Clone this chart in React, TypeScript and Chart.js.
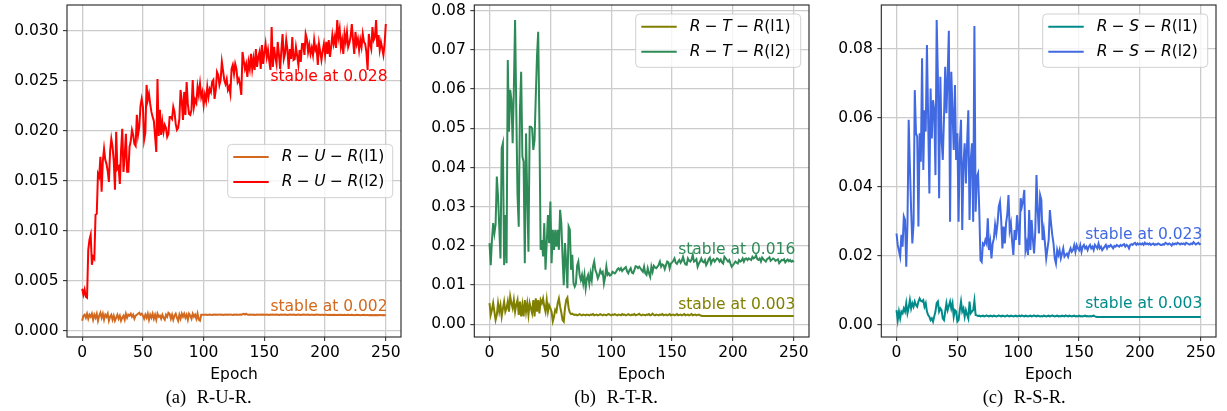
import React, { useEffect, useRef } from "react";
import { Chart, registerables } from "chart.js";

Chart.register(...registerables);

// ---------------- data ----------------
const epochs: number[] = Array.from({ length: 251 }, (_, i) => i);

const xTickValues = [0, 50, 100, 150, 200, 250];
const yTicksRUR = [0, 0.005, 0.01, 0.015, 0.02, 0.025, 0.03];
const yTicksRTR = [0, 0.01, 0.02, 0.03, 0.04, 0.05, 0.06, 0.07, 0.08];
const yTicksRSR = [0, 0.02, 0.04, 0.06, 0.08];

const xAxisTitle = "Epoch";
const captionTags = ["(a)", "(b)", "(c)"];
const captionTexts = ["R-U-R.", "R-T-R.", "R-S-R."];

const labelsRUR = ["R − U − R(l1)", "R − U − R(l2)"];
const labelsRTR = ["R − T − R(l1)", "R − T − R(l2)"];
const labelsRSR = ["R − S − R(l1)", "R − S − R(l2)"];

const stableTextsRUR = ["stable at 0.028", "stable at 0.002"];
const stableTextsRTR = ["stable at 0.016", "stable at 0.003"];
const stableTextsRSR = ["stable at 0.023", "stable at 0.003"];
const stableX = 155;
const stableYRUR = [0.025, 0.002];
const stableYRTR = [0.018, 0.004];
const stableYRSR = [0.025, 0.005];

const rurL1 = [
  0.0010, 0.0015, 0.0016, 0.0013, 0.0017, 0.0012, 0.0016, 0.0014, 0.0017, 0.0011,
  0.0016, 0.0013, 0.0017, 0.0010, 0.0015, 0.0018, 0.0013, 0.0017, 0.0011, 0.0016,
  0.0014, 0.0017, 0.0010, 0.0014, 0.0016, 0.0011, 0.0015, 0.0010, 0.0013, 0.0016,
  0.0012, 0.0015, 0.0010, 0.0013, 0.0015, 0.0011, 0.0017, 0.0013, 0.0016, 0.0015,
  0.0017, 0.0014, 0.0016, 0.0012, 0.0015, 0.0016, 0.0017, 0.0018, 0.0016, 0.0017,
  0.0015, 0.0012, 0.0016, 0.0013, 0.0017, 0.0011, 0.0016, 0.0013, 0.0017, 0.0012,
  0.0016, 0.0011, 0.0017, 0.0014, 0.0015, 0.0012, 0.0016, 0.0013, 0.0011, 0.0016,
  0.0014, 0.0018, 0.0017, 0.0012, 0.0016, 0.0011, 0.0015, 0.0017, 0.0013, 0.0010,
  0.0016, 0.0012, 0.0017, 0.0014, 0.0017, 0.0013, 0.0016, 0.0011, 0.0017, 0.0015,
  0.0012, 0.0017, 0.0014, 0.0016, 0.0012, 0.0017, 0.0011, 0.0010, 0.0016, 0.0016,
  0.0016, 0.0016, 0.00162, 0.00158, 0.0016, 0.00163, 0.0016, 0.00158, 0.00161, 0.0016,
  0.00162, 0.0016, 0.00159, 0.00163, 0.0016, 0.00161, 0.00158, 0.0016, 0.00162, 0.0016,
  0.00161, 0.00159, 0.00163, 0.0016, 0.00158, 0.00162, 0.0016, 0.00161, 0.00159, 0.0016,
  0.00162, 0.0016, 0.00164, 0.00168, 0.00162, 0.0017, 0.00162, 0.0016, 0.00161, 0.00159,
  0.0016, 0.00162, 0.00158, 0.0016, 0.00161, 0.0016, 0.00159, 0.00162, 0.0016, 0.00161,
  0.00159, 0.0016, 0.00162, 0.0016, 0.00158, 0.00161, 0.0016, 0.00162, 0.00159, 0.0016,
  0.00161, 0.0016, 0.00158, 0.0016, 0.00162, 0.0016, 0.00159, 0.00161, 0.0016, 0.00158,
  0.0016, 0.00162, 0.0016, 0.00159, 0.00161, 0.0016, 0.00158, 0.0016, 0.00161, 0.0016,
  0.00158, 0.0016, 0.00162, 0.0016, 0.00159, 0.0016, 0.00161, 0.00158, 0.0016, 0.00159,
  0.0016, 0.00158, 0.0016, 0.00161, 0.00159, 0.0016, 0.00158, 0.0016, 0.00159, 0.00157,
  0.00159, 0.0016, 0.00158, 0.00157, 0.0016, 0.00158, 0.00159, 0.00157, 0.0016, 0.00158,
  0.00157, 0.00159, 0.00158, 0.0016, 0.00157, 0.00158, 0.00159, 0.00157, 0.00158, 0.0016,
  0.00158, 0.00157, 0.00159, 0.00158, 0.00156, 0.00158, 0.00159, 0.00157, 0.00158, 0.00156,
  0.00158, 0.00157, 0.00159, 0.00156, 0.00158, 0.00157, 0.00155, 0.00158, 0.00156, 0.00157,
  0.00155, 0.00157, 0.00156, 0.00158, 0.00155, 0.00157, 0.00156, 0.00155, 0.00157, 0.00155,
  0.00156,
];

const rurL2 = [
  0.0042, 0.0036, 0.0041, 0.0034, 0.0033, 0.0081, 0.0091, 0.0096, 0.0066, 0.0074,
  0.0072, 0.0116, 0.0117, 0.0157, 0.0154, 0.0174, 0.0139, 0.0170, 0.0182, 0.0171,
  0.0167, 0.0160, 0.0149, 0.0180, 0.0192, 0.0184, 0.0170, 0.0141, 0.0199, 0.0162,
  0.0164, 0.0147, 0.0180, 0.0202, 0.0159, 0.0175, 0.0197, 0.0159, 0.0159, 0.0184,
  0.0190, 0.0201, 0.0196, 0.0187, 0.0185, 0.0216, 0.0196, 0.0204, 0.0225, 0.0232,
  0.0224, 0.0191, 0.0198, 0.0246, 0.0231, 0.0237, 0.0227, 0.0219, 0.0214, 0.0210,
  0.0195, 0.0179, 0.0252, 0.0195, 0.0221, 0.0196, 0.0209, 0.0199, 0.0206, 0.0203,
  0.0194, 0.0197, 0.0214, 0.0214, 0.0212, 0.0224, 0.0219, 0.0207, 0.0201, 0.0203,
  0.0212, 0.0241, 0.0230, 0.0211, 0.0239, 0.0216, 0.0249, 0.0227, 0.0217, 0.0216,
  0.0221, 0.0251, 0.0224, 0.0231, 0.0228, 0.0244, 0.0236, 0.0247, 0.0234, 0.0239,
  0.0226, 0.0236, 0.0230, 0.0244, 0.0234, 0.0242, 0.0239, 0.0249, 0.0251, 0.0232,
  0.0241, 0.0259, 0.0256, 0.0246, 0.0251, 0.0269, 0.0260, 0.0251, 0.0247, 0.0252,
  0.0241, 0.0244, 0.0237, 0.0262, 0.0266, 0.0257, 0.0267, 0.0262,
  0.0249, 0.0252, 0.0246, 0.0236, 0.0279, 0.0270, 0.0262, 0.0267, 0.0254, 0.0269,
  0.0262, 0.0277, 0.0262, 0.0272, 0.0261, 0.0282, 0.0264, 0.0274, 0.0279, 0.0262,
  0.0286, 0.0267, 0.0278, 0.0287, 0.0274, 0.0281, 0.0270, 0.0261, 0.0304, 0.0264,
  0.0284, 0.0274, 0.0267, 0.0289, 0.0276, 0.0262, 0.0281, 0.0297, 0.0272, 0.0277,
  0.0291, 0.0281, 0.0262, 0.0282, 0.0272, 0.0294, 0.0271, 0.0272, 0.0284, 0.0275,
  0.0266, 0.0281, 0.0269, 0.0287, 0.0287, 0.0276, 0.0297, 0.0292, 0.0279, 0.0286,
  0.0277, 0.0283, 0.0276, 0.0291, 0.0281, 0.0284, 0.0266, 0.0287, 0.0279, 0.0271,
  0.0280, 0.0287, 0.0276, 0.0289, 0.0277, 0.0291, 0.0274, 0.0284, 0.0296, 0.0287,
  0.0294, 0.0283, 0.0311, 0.0294, 0.0302, 0.0284, 0.0291, 0.0277, 0.0297, 0.0289,
  0.0299, 0.0284, 0.0288, 0.0294, 0.0307, 0.0291, 0.0277, 0.0299, 0.0287, 0.0292,
  0.0281, 0.0291, 0.0284, 0.0297, 0.0289, 0.0287, 0.0279, 0.0261, 0.0297, 0.0287,
  0.0282, 0.0304, 0.0291, 0.0294, 0.0311, 0.0284, 0.0296, 0.0281, 0.0289, 0.0283,
  0.0276, 0.0287, 0.0307,
];

const rtrL1 = [
  0.0054, 0.0024, 0.0037, 0.0054, 0.0032, 0.0011, 0.0024, 0.0054, 0.0032, 0.0049,
  0.0020, 0.0040, 0.0058, 0.0032, 0.0041, 0.0058, 0.0032, 0.0071, 0.0054, 0.0041,
  0.0062, 0.0032, 0.0050, 0.0062, 0.0024, 0.0058, 0.0020, 0.0049, 0.0020, 0.0062,
  0.0032, 0.0054, 0.0024, 0.0054, 0.0040, 0.0028, 0.0062, 0.0020, 0.0066, 0.0032,
  0.0062, 0.0028, 0.0062, 0.0054, 0.0066, 0.0045, 0.0032, 0.0062, 0.0032, 0.0049,
  0.0041, 0.0032, 0.0008, 0.0020, 0.0037, 0.0032, 0.0054, 0.0066, 0.0045, 0.0030,
  0.0011, 0.0007, 0.0041, 0.0062, 0.0068, 0.0041, 0.0030, 0.0026, 0.0027, 0.0025,
  0.0024, 0.0025, 0.0023, 0.0024, 0.0026, 0.0024, 0.0023, 0.0025, 0.0024, 0.0023,
  0.0025, 0.0024, 0.0023, 0.0025, 0.0024, 0.0026, 0.0023, 0.0024, 0.0025, 0.0023,
  0.0024, 0.0026, 0.0024, 0.0023, 0.0025, 0.0024, 0.0023, 0.0025, 0.0026, 0.0024,
  0.0023, 0.0025, 0.0024, 0.0026, 0.0024, 0.0023, 0.0025, 0.0024, 0.0023, 0.0026,
  0.0024, 0.0025, 0.0023, 0.0024, 0.0026, 0.0024, 0.0023, 0.0025, 0.0024, 0.0026,
  0.0023, 0.0024, 0.0025, 0.0027, 0.0024, 0.0023, 0.0025, 0.0024, 0.0023, 0.0025,
  0.0024, 0.0026, 0.0023, 0.0024, 0.0027, 0.0024, 0.0023, 0.0025, 0.0024, 0.0023,
  0.0025, 0.0024, 0.0026, 0.0023, 0.0024, 0.0025, 0.0023, 0.0024, 0.0026, 0.0023,
  0.0024, 0.0025, 0.0023, 0.0024, 0.0026, 0.0023, 0.0024, 0.0025, 0.0023, 0.0024,
  0.0026, 0.0023, 0.0024, 0.0025, 0.0023, 0.0024, 0.0026, 0.0023, 0.0024, 0.0025,
  0.0023, 0.0024, 0.0025, 0.0023, 0.0022, 0.0021, 0.0021, 0.0021, 0.0021, 0.0021,
  0.0021, 0.0021, 0.0021, 0.0021, 0.0021, 0.0021, 0.0021, 0.0021, 0.0021, 0.0021,
  0.0021, 0.0021, 0.0021, 0.0021, 0.0021, 0.0021, 0.0021, 0.0021, 0.0021, 0.0021,
  0.0021, 0.0021, 0.0021, 0.0021, 0.0021, 0.0021, 0.0021, 0.0021, 0.0021, 0.0021,
  0.0021, 0.0021, 0.0021, 0.0021, 0.0021, 0.0021, 0.0021, 0.0021, 0.0021, 0.0021,
  0.0021, 0.0021, 0.0021, 0.0021, 0.0021, 0.0021, 0.0021, 0.0021, 0.0021, 0.0021,
  0.0021, 0.0021, 0.0021, 0.0021, 0.0021, 0.0021, 0.0021, 0.0021, 0.0021, 0.0021,
  0.0021, 0.0021, 0.0021, 0.0021, 0.0021, 0.0021, 0.0021, 0.0021, 0.0021, 0.0021,
  0.0021,
];

const rtrL2 = [
  0.0207, 0.0151, 0.0215, 0.0258, 0.0232, 0.0255, 0.0377, 0.0326, 0.0249, 0.0168,
  0.0449, 0.0462, 0.0151, 0.0279, 0.0156, 0.0674, 0.0491, 0.0598, 0.0572, 0.0462,
  0.0600, 0.0776, 0.0547, 0.0330, 0.0249, 0.0547, 0.0644, 0.0428, 0.0415, 0.0156,
  0.0487, 0.0326, 0.0185, 0.0504, 0.0504, 0.0500, 0.0445, 0.0470, 0.0580, 0.0683,
  0.0746, 0.0508, 0.0190, 0.0215, 0.0173, 0.0258, 0.0139, 0.0207, 0.0279, 0.0207,
  0.0313, 0.0156, 0.0241, 0.0190, 0.0241, 0.0198, 0.0241, 0.0190, 0.0292, 0.0258,
  0.0173, 0.0100, 0.0207, 0.0156, 0.0092, 0.0249, 0.0241, 0.0139, 0.0177, 0.0105,
  0.0096, 0.0104, 0.0150, 0.0160, 0.0126, 0.0113, 0.0126, 0.0104, 0.0126, 0.0092,
  0.0117, 0.0126, 0.0104, 0.0130, 0.0113, 0.0147, 0.0160, 0.0138, 0.0130, 0.0117,
  0.0125, 0.0138, 0.0130, 0.0134, 0.0104, 0.0121, 0.0147, 0.0126, 0.0130, 0.0124,
  0.0126, 0.0134, 0.0132, 0.0130, 0.0134, 0.0140, 0.0143, 0.0138, 0.0143, 0.0136,
  0.0140, 0.0143, 0.0146, 0.0135, 0.0130, 0.0138, 0.0143, 0.0132, 0.0130, 0.0138,
  0.0148, 0.0147, 0.0143, 0.0147, 0.0143, 0.0138, 0.0134, 0.0147, 0.0130, 0.0126,
  0.0143, 0.0130, 0.0121, 0.0147, 0.0134, 0.0149, 0.0145, 0.0143, 0.0147, 0.0152,
  0.0160, 0.0147, 0.0153, 0.0151, 0.0141, 0.0151, 0.0160, 0.0158, 0.0143, 0.0155,
  0.0158, 0.0162, 0.0168, 0.0157, 0.0154, 0.0160, 0.0164, 0.0157, 0.0162, 0.0172,
  0.0160, 0.0153, 0.0152, 0.0168, 0.0162, 0.0160, 0.0165, 0.0177, 0.0160, 0.0162,
  0.0166, 0.0147, 0.0155, 0.0160, 0.0168, 0.0160, 0.0158, 0.0164, 0.0151, 0.0157,
  0.0166, 0.0170, 0.0155, 0.0163, 0.0166, 0.0160, 0.0164, 0.0168, 0.0166, 0.0160,
  0.0165, 0.0158, 0.0155, 0.0172, 0.0168, 0.0164, 0.0160, 0.0164, 0.0155, 0.0147,
  0.0151, 0.0155, 0.0160, 0.0157, 0.0155, 0.0164, 0.0160, 0.0162, 0.0168, 0.0160,
  0.0167, 0.0168, 0.0164, 0.0168, 0.0166, 0.0164, 0.0172, 0.0168, 0.0170, 0.0176,
  0.0166, 0.0164, 0.0168, 0.0160, 0.0170, 0.0166, 0.0163, 0.0160, 0.0166, 0.0168,
  0.0171, 0.0162, 0.0165, 0.0168, 0.0166, 0.0162, 0.0164, 0.0166, 0.0156, 0.0160,
  0.0164, 0.0163, 0.0166, 0.0158, 0.0162, 0.0165, 0.0161, 0.0164, 0.0160, 0.0162,
  0.0159,
];

const rsrL1 = [
  0.0043, 0.0014, 0.0039, 0.0019, 0.0039, 0.0034, 0.0048, 0.0039, 0.0063, 0.0034,
  0.0050, 0.0072, 0.0048, 0.0063, 0.0053, 0.0068, 0.0058, 0.0053, 0.0068, 0.0077,
  0.0070, 0.0068, 0.0072, 0.0053, 0.0063, 0.0039, 0.0029, 0.0024, 0.0014, 0.0019,
  0.0010, 0.0025, 0.0039, 0.0063, 0.0068, 0.0039, 0.0048, 0.0043, 0.0019, 0.0014,
  0.0039, 0.0063, 0.0043, 0.0055, 0.0068, 0.0048, 0.0063, 0.0024, 0.0043, 0.0039,
  0.0010, 0.0014, 0.0043, 0.0068, 0.0039, 0.0048, 0.0024, 0.0043, 0.0030, 0.0019,
  0.0068, 0.0034, 0.0039, 0.0043, 0.0070, 0.0029, 0.0028, 0.0026, 0.0027, 0.0025,
  0.0026, 0.0027, 0.0025, 0.0026, 0.0028, 0.0026, 0.0025, 0.0027, 0.0026, 0.0025,
  0.0027, 0.0026, 0.0025, 0.0026, 0.0028, 0.0026, 0.0025, 0.0027, 0.0026, 0.0025,
  0.0026, 0.0028, 0.0026, 0.0025, 0.0027, 0.0026, 0.0025, 0.0026, 0.0027, 0.0025,
  0.0026, 0.0027, 0.0025, 0.0028, 0.0026, 0.0025, 0.0027, 0.0026, 0.0025, 0.0026,
  0.0027, 0.0025, 0.0026, 0.0028, 0.0026, 0.0025, 0.0027, 0.0026, 0.0025, 0.0026,
  0.0025, 0.0027, 0.0026, 0.0025, 0.0026, 0.0027, 0.0025, 0.0026, 0.0028, 0.0026,
  0.0025, 0.0026, 0.0027, 0.0025, 0.0026, 0.0025, 0.0027, 0.0026, 0.0025, 0.0028,
  0.0026, 0.0025, 0.0027, 0.0026, 0.0025, 0.0026, 0.0027, 0.0025, 0.0026, 0.0025,
  0.0027, 0.0025, 0.0026, 0.0025, 0.0026, 0.0027, 0.0025, 0.0026, 0.0025, 0.0026,
  0.0025, 0.0026, 0.0027, 0.0025, 0.0024, 0.0023, 0.0023, 0.0023, 0.0023, 0.0023,
  0.0023, 0.0023, 0.0023, 0.0023, 0.0023, 0.0023, 0.0023, 0.0023, 0.0023, 0.0023,
  0.0023, 0.0023, 0.0023, 0.0023, 0.0023, 0.0023, 0.0023, 0.0023, 0.0023, 0.0023,
  0.0023, 0.0023, 0.0023, 0.0023, 0.0023, 0.0023, 0.0023, 0.0023, 0.0023, 0.0023,
  0.0023, 0.0023, 0.0023, 0.0023, 0.0023, 0.0023, 0.0023, 0.0023, 0.0023, 0.0023,
  0.0023, 0.0023, 0.0023, 0.0023, 0.0023, 0.0023, 0.0023, 0.0023, 0.0023, 0.0023,
  0.0023, 0.0023, 0.0023, 0.0023, 0.0023, 0.0023, 0.0023, 0.0023, 0.0023, 0.0023,
  0.0023, 0.0023, 0.0023, 0.0023, 0.0023, 0.0023, 0.0023, 0.0023, 0.0023, 0.0023,
  0.0023, 0.0023, 0.0023, 0.0023, 0.0023, 0.0023, 0.0023, 0.0023, 0.0023, 0.0023,
  0.0023,
];

const rsrL2 = [
  0.0265, 0.0232, 0.0215, 0.0198, 0.0261, 0.0227, 0.0314, 0.0304, 0.0169, 0.0294,
  0.0594, 0.0458, 0.0333, 0.0236, 0.0294, 0.0680, 0.0555, 0.0545, 0.0285, 0.0555,
  0.0473, 0.0772, 0.0449, 0.0622, 0.0560, 0.0811, 0.0594, 0.0381, 0.0685, 0.0540,
  0.0651, 0.0622, 0.0434, 0.0883, 0.0719, 0.0367, 0.0719, 0.0540, 0.0478, 0.0598,
  0.0748, 0.0613, 0.0720, 0.0852, 0.0299, 0.0733, 0.0622, 0.0507, 0.0695, 0.0478,
  0.0555, 0.0299, 0.0526, 0.0594, 0.0275, 0.0468, 0.0526, 0.0410, 0.0526, 0.0622,
  0.0304, 0.0478, 0.0526, 0.0299, 0.0866, 0.0328, 0.0429, 0.0439, 0.0333, 0.0188,
  0.0183, 0.0236, 0.0232, 0.0246, 0.0236, 0.0309, 0.0217, 0.0241, 0.0193, 0.0236,
  0.0250, 0.0290, 0.0265, 0.0294, 0.0343, 0.0357, 0.0304, 0.0222, 0.0285, 0.0236,
  0.0294, 0.0320, 0.0376, 0.0275, 0.0294, 0.0241, 0.0203, 0.0275, 0.0246, 0.0318,
  0.0280, 0.0232, 0.0367, 0.0343, 0.0360, 0.0391, 0.0217, 0.0236, 0.0203, 0.0333,
  0.0217, 0.0304, 0.0250, 0.0207, 0.0270, 0.0434, 0.0333, 0.0265, 0.0376, 0.0362,
  0.0246, 0.0275, 0.0236, 0.0193, 0.0220, 0.0246, 0.0333, 0.0294, 0.0260, 0.0236,
  0.0193, 0.0178, 0.0217, 0.0203, 0.0217, 0.0193, 0.0207, 0.0222, 0.0198, 0.0203,
  0.0207, 0.0198, 0.0212, 0.0222, 0.0212, 0.0217, 0.0231, 0.0212, 0.0231, 0.0222,
  0.0217, 0.0231, 0.0212, 0.0227, 0.0232, 0.0222, 0.0227, 0.0217, 0.0227, 0.0232,
  0.0222, 0.0227, 0.0217, 0.0232, 0.0227, 0.0222, 0.0236, 0.0222, 0.0227, 0.0217,
  0.0222, 0.0227, 0.0232, 0.0222, 0.0229, 0.0227, 0.0232, 0.0227, 0.0222, 0.0229,
  0.0227, 0.0232, 0.0229, 0.0227, 0.0232, 0.0229, 0.0232, 0.0234, 0.0227, 0.0232,
  0.0229, 0.0222, 0.0232, 0.0234, 0.0232, 0.0236, 0.0238, 0.0232, 0.0236, 0.0233,
  0.0236, 0.0233, 0.0236, 0.0232, 0.0238, 0.0234, 0.0236, 0.0233, 0.0236, 0.0232,
  0.0234, 0.0236, 0.0232, 0.0234, 0.0233, 0.0236, 0.0234, 0.0232, 0.0232, 0.0234,
  0.0233, 0.0238, 0.0236, 0.0233, 0.0236, 0.0234, 0.0230, 0.0236, 0.0233, 0.0236,
  0.0234, 0.0238, 0.0236, 0.0233, 0.0236, 0.0234, 0.0236, 0.0233, 0.0238, 0.0236,
  0.0234, 0.0233, 0.0236, 0.0234, 0.0240, 0.0236, 0.0233, 0.0236, 0.0238, 0.0234,
  0.0236,
];

// ---------------- styling ----------------
const FONT = '"DejaVu Sans", sans-serif';
const FS = 15.5;
const LINE_W = 2;

type PanelCfg = {
  left: number;
  width: number;
  height: number;
  yAxisWidth: number;
  padRight: number;
  yMin: number;
  yMax: number;
  yTicks: number[];
  decimals: number;
  series: number[][];
  labels: string[];
  colors: string[];
  legendLoc: "center right" | "upper right";
  notes: string[];
  noteY: number[];
  noteColors: string[];
};

function drawMathLabel(ctx: CanvasRenderingContext2D, label: string, x: number, y: number) {
  const gap = 4.4;
  const tokens = label.split(" ");
  let cx = x;
  ctx.textBaseline = "middle";
  ctx.textAlign = "left";
  ctx.fillStyle = "#000";
  tokens.forEach((tok, ti) => {
    if (ti > 0) cx += gap;
    let inParen = false;
    for (const ch of tok) {
      if (ch === "(") inParen = true;
      const italic = !inParen && /[A-Z]/.test(ch);
      ctx.font = `${italic ? "italic " : ""}${FS}px ${FONT}`;
      ctx.fillText(ch, cx, y);
      cx += ctx.measureText(ch).width;
    }
  });
}

function makeDecorPlugin(cfg: PanelCfg) {
  return {
    id: "panelDecor",
    afterDatasetsDraw(chart: any) {
      const { ctx, chartArea: a, scales } = chart;
      ctx.save();
      // frame (spines)
      ctx.strokeStyle = "#222";
      ctx.lineWidth = 1.1;
      ctx.strokeRect(a.left, a.top, a.right - a.left, a.bottom - a.top);

      // "stable at" notes
      ctx.font = `${FS}px ${FONT}`;
      ctx.textAlign = "left";
      ctx.textBaseline = "alphabetic";
      cfg.notes.forEach((t, i) => {
        ctx.fillStyle = cfg.noteColors[i];
        ctx.fillText(t, scales.x.getPixelForValue(stableX), scales.y.getPixelForValue(cfg.noteY[i]));
      });

      // legend
      const w = 165;
      const h = 53.3;
      const bx = a.right - 8.3 - w;
      const by = cfg.legendLoc === "center right" ? (a.top + a.bottom) / 2 - h / 2 : a.top + 9;
      ctx.beginPath();
      if ((ctx as any).roundRect) (ctx as any).roundRect(bx, by, w, h, 4);
      else ctx.rect(bx, by, w, h);
      ctx.fillStyle = "rgba(255,255,255,0.8)";
      ctx.fill();
      ctx.strokeStyle = "rgba(204,204,204,0.9)";
      ctx.lineWidth = 1;
      ctx.stroke();
      cfg.labels.forEach((lab, i) => {
        const cy = by + 12.7 + i * 25;
        ctx.strokeStyle = cfg.colors[i];
        ctx.lineWidth = LINE_W;
        ctx.beginPath();
        ctx.moveTo(bx + 5.6, cy);
        ctx.lineTo(bx + 41, cy);
        ctx.stroke();
        drawMathLabel(ctx, lab, bx + 54, cy);
      });
      ctx.restore();
    },
  };
}

function LinePanel({ cfg }: { cfg: PanelCfg }) {
  const ref = useRef<HTMLCanvasElement | null>(null);
  useEffect(() => {
    if (!ref.current) return;
    const chart = new Chart(ref.current, {
      type: "line",
      data: {
        datasets: cfg.series.map((s, i) => ({
          label: cfg.labels[i],
          data: s.map((v, j) => ({ x: epochs[j], y: v })),
          borderColor: cfg.colors[i],
          backgroundColor: cfg.colors[i],
          borderWidth: LINE_W,
          pointRadius: 0,
          tension: 0,
          fill: false,
        })),
      },
      options: {
        animation: false,
        responsive: false,
        events: [],
        layout: { padding: { top: 5, right: cfg.padRight, left: 0, bottom: 0 } },
        plugins: { legend: { display: false }, tooltip: { enabled: false } },
        scales: {
          x: {
            type: "linear",
            min: -12.5,
            max: 262.5,
            afterBuildTicks: (s: any) => {
              s.ticks = xTickValues.map((v) => ({ value: v }));
            },
            afterFit: (s: any) => {
              s.height = cfg.height - 337;
              s.paddingLeft = 0;
              s.paddingRight = 0;
            },
            ticks: {
              color: "#000",
              font: { family: FONT, size: FS },
              padding: 3,
              maxRotation: 0,
              autoSkip: false,
              callback: (v: any) => String(v),
            },
            grid: { color: "#cccccc", lineWidth: 1.3, tickColor: "#222", tickLength: 4, tickWidth: 1 },
            border: { display: false },
            title: {
              display: true,
              text: xAxisTitle,
              color: "#000",
              font: { family: FONT, size: FS },
              padding: { top: 0, bottom: 5.7 },
            },
          },
          y: {
            type: "linear",
            min: cfg.yMin,
            max: cfg.yMax,
            afterBuildTicks: (s: any) => {
              s.ticks = cfg.yTicks.map((v) => ({ value: v }));
            },
            afterFit: (s: any) => {
              s.width = cfg.yAxisWidth;
              s.paddingTop = 0;
              s.paddingBottom = 0;
            },
            ticks: {
              color: "#000",
              font: { family: FONT, size: FS },
              padding: 4.5,
              autoSkip: false,
              callback: (v: any) => Number(v).toFixed(cfg.decimals),
            },
            grid: { color: "#cccccc", lineWidth: 1.3, tickColor: "#222", tickLength: 4, tickWidth: 1 },
            border: { display: false },
          },
        },
      },
      plugins: [makeDecorPlugin(cfg)],
    } as any);
    return () => chart.destroy();
  }, [cfg]);
  return (
    <canvas
      ref={ref}
      width={cfg.width}
      height={cfg.height}
      style={{ position: "absolute", left: cfg.left, top: 0, width: cfg.width, height: cfg.height }}
    />
  );
}

const PANELS: PanelCfg[] = [
  {
    left: 0, width: 410, height: 390, yAxisWidth: 67, padRight: 9,
    yMin: -0.00063, yMax: 0.0326, yTicks: yTicksRUR, decimals: 3,
    series: [rurL1, rurL2], labels: labelsRUR, colors: ["#D2691E", "#FF0000"],
    legendLoc: "center right",
    notes: stableTextsRUR, noteY: stableYRUR, noteColors: ["#FF0000", "#D2691E"],
  },
  {
    left: 410, width: 410, height: 390, yAxisWidth: 64.3, padRight: 11,
    yMin: -0.00324, yMax: 0.08145, yTicks: yTicksRTR, decimals: 2,
    series: [rtrL1, rtrL2], labels: labelsRTR, colors: ["#808000", "#2E8B57"],
    legendLoc: "upper right",
    notes: stableTextsRTR, noteY: stableYRTR, noteColors: ["#2E8B57", "#808000"],
  },
  {
    left: 817, width: 410, height: 390, yAxisWidth: 64.3, padRight: 11,
    yMin: -0.00347, yMax: 0.09265, yTicks: yTicksRSR, decimals: 2,
    series: [rsrL1, rsrL2], labels: labelsRSR, colors: ["#008B8B", "#4169E1"],
    legendLoc: "upper right",
    notes: stableTextsRSR, noteY: stableYRSR, noteColors: ["#4169E1", "#008B8B"],
  },
];

const CAPTION_POS = [
  { tagLeft: 165.7, textLeft: 196.7 },
  { tagLeft: 574.3, textLeft: 606.7 },
  { tagLeft: 982.7, textLeft: 1013.7 },
];

const captionStyle: React.CSSProperties = {
  position: "absolute",
  top: 387,
  fontFamily: '"Liberation Serif", "DejaVu Serif", serif',
  fontSize: 18.5,
  lineHeight: "20px",
  color: "#000",
  whiteSpace: "pre",
};

export default function App() {
  return (
    <div
      style={{
        position: "fixed",
        left: 0,
        top: 0,
        width: 1227,
        height: 411,
        background: "#fff",
        overflow: "hidden",
      }}
    >
      {PANELS.map((p, i) => (
        <LinePanel key={i} cfg={p} />
      ))}
      {CAPTION_POS.map((c, i) => (
        <React.Fragment key={"cap" + i}>
          <div style={{ ...captionStyle, left: c.tagLeft }}>{captionTags[i]}</div>
          <div style={{ ...captionStyle, left: c.textLeft }}>{captionTexts[i]}</div>
        </React.Fragment>
      ))}
    </div>
  );
}
